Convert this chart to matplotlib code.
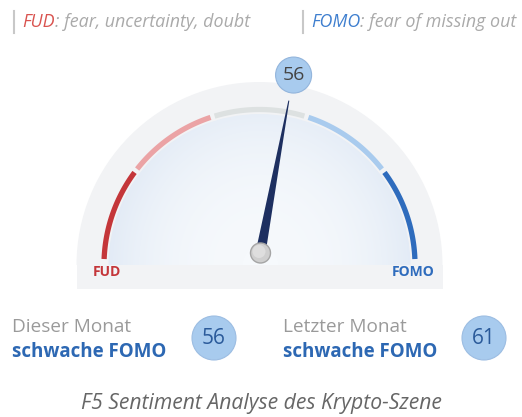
import numpy as np
import matplotlib
matplotlib.use('Agg')
import matplotlib.pyplot as plt
from matplotlib.patches import Circle, Polygon, Rectangle, Wedge

plt.rcParams['font.family'] = ['Open Sans', 'DejaVu Sans']

# data
current_value = 56
last_value = 61
segment_edges = [0, 20, 40, 60, 80, 100]
segment_colors = ['#c4363a', '#eba3a5', '#dde1e1', '#a9cbee', '#2f6cbd']
current_label = 'schwache FOMO'
last_label = 'schwache FOMO'
period_labels = ['Dieser Monat', 'Letzter Monat']
legend_terms = ['FUD', 'FOMO']
legend_texts = [': fear, uncertainty, doubt', ': fear of missing out']
legend_colors = ['#d9534f', '#3f7fcf']
caption = 'F5 Sentiment Analyse des Krypto-Szene'

W, H = 522, 417
fig = plt.figure(figsize=(W / 100, H / 100), dpi=100)
ax = fig.add_axes([0, 0, 1, 1])
ax.set_xlim(0, W)
ax.set_ylim(H, 0)
ax.axis('off')

cx, cy, R = 259.5, 265, 155.5      # scale arc
px, py = 260.5, 253                 # needle pivot
a0, a1 = 177.8, 2.2                 # angle span of the scale


def angle(v):
    return np.radians(a0 - (a0 - a1) * v / 100.0)


# background plate
ax.add_patch(Wedge((cx, cy), 183, 180, 360, color='#f2f3f5', lw=0, zorder=0))
ax.add_patch(Rectangle((cx - 183, cy), 366, 24, color='#f2f3f5', lw=0, zorder=0))

# inner face with radial gradient
face = Wedge((cx, cy), 151, 180, 360, transform=ax.transData, lw=0)
yy, xx = np.mgrid[0:200, 0:320]
dist = np.hypot(xx - 160, (yy - 200) * 0.9) / 160.0
grad = np.clip(dist, 0, 1) ** 2.5
img = ax.imshow(grad, cmap=matplotlib.colors.LinearSegmentedColormap.from_list(
    'face', ['#f6f9fc', '#e0e9f5']), extent=(cx - 160, cx + 160, cy, cy - 200),
    zorder=1, interpolation='bilinear')
img.set_clip_path(face)

# scale segments
for i in range(len(segment_colors)):
    gap = 0.45 if i > 0 else 0
    gap2 = 0.45 if i < len(segment_colors) - 1 else 0
    t = np.linspace(angle(segment_edges[i] + gap), angle(segment_edges[i + 1] - gap2), 60)
    ax.plot(cx + R * np.cos(t), cy - R * np.sin(t), color=segment_colors[i],
            lw=3.8, solid_capstyle='butt', zorder=2)

ax.text(107, 272, legend_terms[0], color='#c4363a', fontsize=10, fontweight='bold',
        ha='center', va='center', zorder=3)
ax.text(413, 272, legend_terms[1], color='#2f6cbd', fontsize=10, fontweight='bold',
        ha='center', va='center', zorder=3)

# needle
th = angle(current_value)
L = 155
d = np.array([np.cos(th), -np.sin(th)])
n = np.array([np.sin(th), np.cos(th)])
base = np.array([px, py])
needle = Polygon([base + n * 5, base + d * L + n * 0.5, base + d * L - n * 0.5, base - n * 5],
                 closed=True, color='#1d2f60', lw=0, zorder=4)
ax.add_patch(needle)
ax.add_patch(Circle((px, py), 10, facecolor='#cfcfcf', edgecolor='#a5a5a5', lw=1, zorder=5))
ax.add_patch(Circle((px - 1.5, py - 1.5), 6.5, facecolor='#dedede', lw=0, zorder=5))

# value bubble
bx, by = base + d * 181
ax.add_patch(Circle((bx, by), 18, facecolor='#a8cbee', edgecolor='#93b5dc', lw=0.8, zorder=6))
ax.text(bx, by, str(current_value), fontsize=14, color='#444444', ha='center', va='center', zorder=7)

# header legend
for i, x0 in enumerate([14, 303]):
    ax.plot([x0, x0], [11, 33], color='#c8c8c8', lw=1.5)
    t1 = ax.text(x0 + 8, 31, legend_terms[i], color=legend_colors[i], fontsize=12.9,
                 style='italic', ha='left', va='bottom')
    ax.annotate(legend_texts[i], xy=(1, 0), xycoords=t1, color='#aaaaaa', fontsize=12.9,
                style='italic', ha='left', va='bottom')

# bottom summary
for i, (x0, lab, v) in enumerate([(12, current_label, current_value), (283, last_label, last_value)]):
    ax.text(x0, 332, period_labels[i], fontsize=13.7, color='#9a9a9a', ha='left', va='baseline')
    ax.text(x0, 357, lab, fontsize=13.5, color='#2d68b3', fontweight='bold', ha='left', va='baseline')
    ccx = 214 if i == 0 else 484
    ax.add_patch(Circle((ccx, 338), 22, facecolor='#a8cbee', edgecolor='#9cbde2', lw=0.8))
    ax.text(ccx, 338, str(v), fontsize=15, color='#2a5a9a', ha='center', va='center')

ax.text(261, 404, caption, fontsize=15.2, color='#666666', style='italic', ha='center', va='center')

fig.savefig('out.png', dpi=100)
